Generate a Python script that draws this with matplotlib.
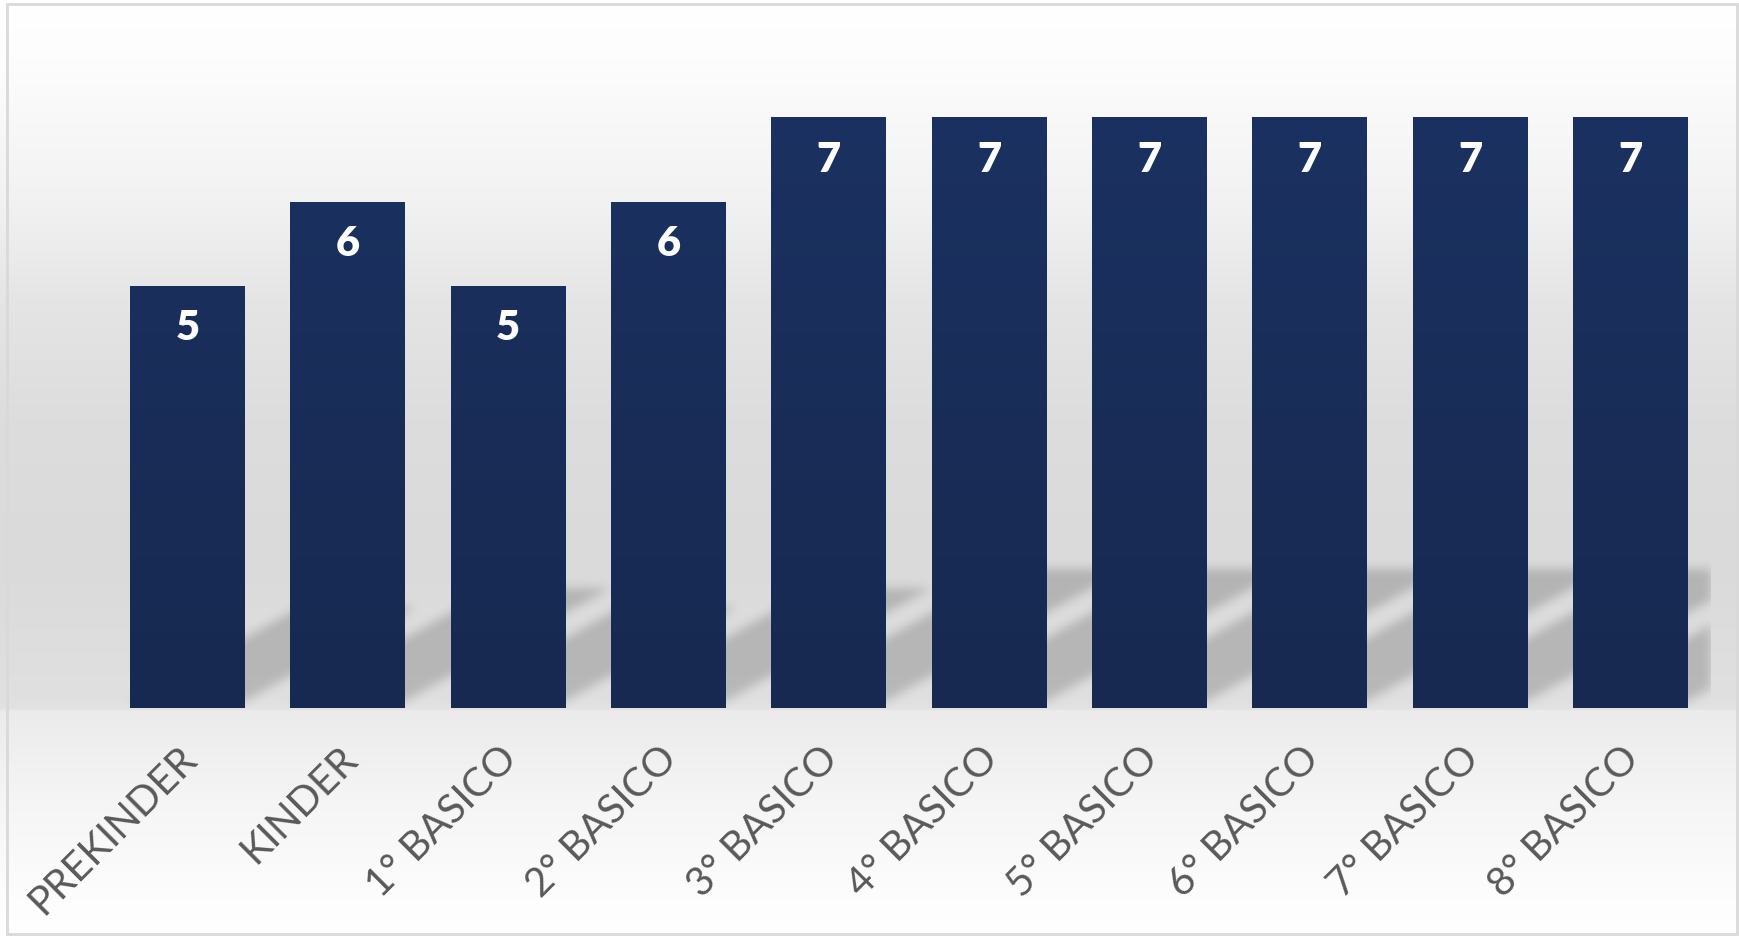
import numpy as np
import matplotlib.pyplot as plt
from matplotlib.patches import Rectangle
from matplotlib.transforms import ScaledTranslation

# Data
categories = ['PREKINDER', 'KINDER', '1° BASICO', '2° BASICO', '3° BASICO',
              '4° BASICO', '5° BASICO', '6° BASICO', '7° BASICO', '8° BASICO']
values = [5, 6, 5, 6, 7, 7, 7, 7, 7, 7]

W, H = 1739, 937
fig = plt.figure(figsize=(W / 100, H / 100), dpi=100)

# Background: soft vertical gray gradient (white top/bottom, gray middle)
bg = fig.add_axes([0, 0, 1, 1], zorder=0)
stops_y = [0, 60, 200, 300, 420, 560, 700, 709, 712, 800, 900, 937]
stops_v = [255, 253, 242, 229, 221, 218, 224, 226, 235, 245, 253, 255]
rows = np.interp(np.arange(H), stops_y, stops_v) / 255
bg_img = np.dstack([np.repeat(rows[:, None], 2, axis=1)] * 3)
bg.imshow(bg_img, aspect='auto', extent=[0, 1, 0, 1], interpolation='bilinear')
bg.set_axis_off()

# Main plot
ax = fig.add_axes([107.3 / W, 1 - 709 / H, (1710.6 - 107.3) / W, 675 / H], zorder=1)
ax.patch.set_alpha(0)
ymax = 8
x = np.arange(len(values))
bar_w = 0.717

bars = ax.bar(x, values, width=bar_w, color='#192e5a', zorder=3)

# Vertical gradient on the bars
top_c = np.array([0x1b, 0x32, 0x63]) / 255
bot_c = np.array([0x17, 0x29, 0x50]) / 255
t = np.linspace(0, 1, 256)[:, None, None]
grad = top_c * (1 - t) + bot_c * t
for b in bars:
    im = ax.imshow(grad, extent=[b.get_x(), b.get_x() + b.get_width(), 0, ymax],
                   aspect='auto', zorder=3.5, interpolation='bilinear')
    im.set_clip_path(b)

# Perspective shadows: sheared, squashed copy of each bar, blurred
nx, ny = 1604, 675
xs = np.linspace(-0.5, 9.5, nx)
ys = np.linspace(0, ymax, ny)
X, Y = np.meshgrid(xs, ys)
shear = 0.957
squash = 0.223
lift = 0.08
mask = np.zeros_like(X)
for xi, v in zip(x, values):
    sh = squash * v
    lo = xi - bar_w / 2 + shear * (Y - lift)
    m = (Y >= lift) & (Y <= lift + sh) & (X >= lo) & (X <= lo + bar_w)
    mask = np.maximum(mask, m.astype(float))

sigma = 5.0
k = np.arange(-15, 16)
kern = np.exp(-k ** 2 / (2 * sigma ** 2))
kern /= kern.sum()
mask = np.apply_along_axis(lambda r: np.convolve(r, kern, mode='same'), 1, mask)
mask = np.apply_along_axis(lambda c: np.convolve(c, kern, mode='same'), 0, mask)
shadow = np.zeros((ny, nx, 4))
shadow[..., 3] = mask * 0.18
ax.imshow(shadow, extent=[-0.5, 9.5, 0, ymax], origin='lower', aspect='auto',
          zorder=2, interpolation='bilinear')

# Value labels inside the bars
for b, v in zip(bars, values):
    ax.text(b.get_x() + b.get_width() / 2, v - 0.49, str(v), ha='center', va='center',
            color='white', fontsize=30, fontweight='heavy', family='Lato', zorder=5)

ax.set_xlim(-0.5, 9.5)
ax.set_ylim(0, ymax)
ax.set_xticks(x)
ax.set_xticklabels(categories, rotation=45, ha='right', rotation_mode='anchor',
                   fontsize=29, color='#595959', family='Lato')
ax.tick_params(axis='x', length=0, pad=22)
shift = ScaledTranslation(-10 / 100, 0, fig.dpi_scale_trans)
for lbl in ax.get_xticklabels():
    lbl.set_transform(lbl.get_transform() + shift)
ax.set_yticks([])
for s in ax.spines.values():
    s.set_visible(False)

# Chart border
fig.add_artist(Rectangle((7 / W, 2 / H), (1737 - 7) / W, (932 - 2) / H,
                         transform=fig.transFigure, fill=False,
                         edgecolor='#d9d9d9', linewidth=2))

plt.savefig('out.png', dpi=100)
plt.close()
